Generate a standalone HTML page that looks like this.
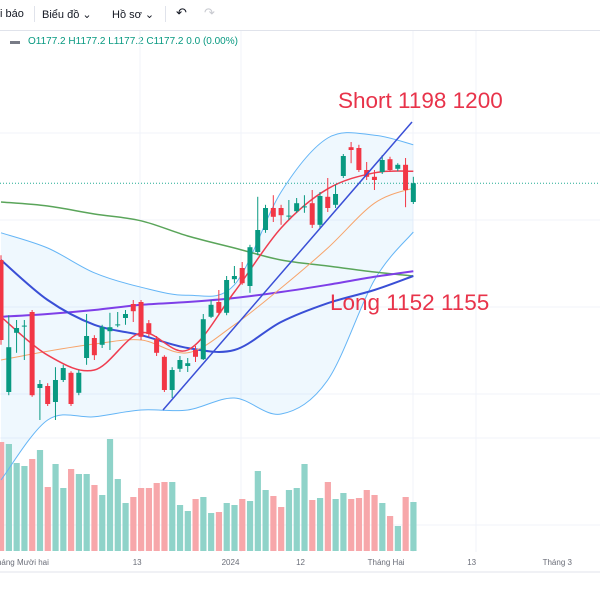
<!DOCTYPE html>
<html><head><meta charset="utf-8">
<style>
html,body{margin:0;padding:0;width:600px;height:600px;overflow:hidden;background:#fff;font-family:"Liberation Sans","Noto Sans CJK SC",sans-serif;}
#tb{position:absolute;left:0;top:0;width:600px;height:30px;border-bottom:1px solid #e0e3eb;font-size:11px;color:#131722;}
#tb span{position:absolute;top:8px;}
#legend{position:absolute;left:10px;top:36px;font-size:10px;color:#089981;}
svg{position:absolute;left:0;top:0;}
</style></head><body>
<div id="tb">
  <span style="left:0">i báo</span>
  <span style="left:34px;top:6px;height:16px;border-left:1px solid #e0e3eb"></span>
  <span style="left:42px">Biểu đồ ⌄</span>
  <span style="left:112px">Hồ sơ ⌄</span>
  <span style="left:165px;top:6px;height:16px;border-left:1px solid #e0e3eb"></span>
  <span style="left:176px;font-size:13px;top:5px">↶</span>
  <span style="left:204px;font-size:13px;top:5px;color:#c8cad0">↷</span>
</div>
<div id="legend"><span style="color:#787b86;margin-right:8px">▬</span>O1177.2 H1177.2 L1177.2 C1177.2 0.0 (0.00%)</div>
<svg id="chart" width="600" height="600"></svg>
<script>
const opens=[1158,1125,1139.8,1141.5,1145,1126,1126.5,1122.5,1128,1129.8,1124.8,1133.5,1138.5,1136.8,1140.2,1141.8,1143.5,1147,1147.5,1142.2,1138.2,1133.8,1125.5,1130.8,1131.5,1135.5,1133.2,1143.8,1147.5,1144.8,1153.2,1156,1151.5,1160,1165.5,1171,1171,1169,1170.2,1171.2,1172.2,1166.8,1173.8,1171.8,1179,1186.2,1186,1180.5,1178.8,1180,1183.2,1180.8,1181.8,1172.5];
const closes=[1138,1136.2,1141,1141.6,1124.2,1127,1122,1128,1131,1122,1129.8,1139,1134.2,1141.2,1141.2,1141.9,1144.5,1145.2,1138.8,1139.5,1134.8,1125.5,1130.5,1133,1132.2,1133.8,1143.2,1146.8,1144.8,1153,1154,1152.2,1161.2,1165.5,1171,1168.8,1169.2,1169.1,1172.2,1171.4,1166.8,1174,1171,1174.5,1184,1185.5,1180.5,1178.8,1178,1183,1180.5,1181.8,1175.5,1177.2];
const highs=[1159.2,1144.2,1143,1143,1145.5,1128,1127.2,1131.2,1131.8,1130.2,1130.5,1144.5,1139.2,1141.8,1144.8,1145,1145.5,1148,1148,1143,1139,1134.2,1131.2,1134,1133.5,1136.5,1144.5,1148,1150.5,1154,1156.5,1157.5,1161.8,1173.8,1171.8,1174.2,1171.8,1173,1173.5,1174.2,1175.5,1175,1178.5,1176.8,1184.5,1187.5,1186.8,1182.5,1180.5,1184.2,1183.8,1182.2,1183.5,1178.8];
const lows=[1136.8,1124.2,1134.8,1133,1123.8,1118,1121.5,1118,1127.5,1121.5,1124.2,1131.8,1133,1136,1135.5,1141.2,1141.8,1142.5,1138,1138.8,1134,1125,1123.5,1130,1130,1132.5,1133,1143.5,1144.2,1144.2,1152.2,1151.8,1149.8,1159.2,1164.8,1167.5,1166.8,1168,1169.8,1169.8,1166,1166,1170,1171,1178.5,1182.2,1180,1178,1175.5,1179.5,1180,1180.2,1171.2,1172];
const volumes=[109,107,88,85,92,101,64,87,63,82,77,77,66,56,112,72,48,54,63,63,68,69,69,46,40,52,54,38,39,48,46,52,50,80,61,55,44,61,63,87,51,53,69,52,58,52,53,61,56,48,35,25,54,49];
const lineIdx=[0,6,12,18,24,30,36,42,48,53];
const maFast=[1143.8,1134.2,1130.5,1139.8,1135.5,1150,1166,1175.8,1179.8,1180.2];
const maMid=[1133,1135.2,1137,1138,1134.8,1141.8,1151,1161,1172.2,1176];
const maBlue=[1158,1148,1141.8,1139.2,1136,1135.5,1142.5,1147.2,1150.5,1154];
const maPurple=[1143.8,1144.5,1145.5,1146.8,1147.5,1148.5,1150,1151.8,1153.8,1155.2];
const ma200=[1172.5,1171.5,1169.5,1167.8,1164,1161,1158,1156.5,1155,1154];
const bbUpper=[1164.8,1161,1154.8,1151.2,1149.2,1151.8,1175,1188.5,1189.2,1186.8];
const bbLower=[1103,1118,1118.8,1120.5,1120.5,1123.5,1119.5,1128,1153,1165];
const currentPrice=1177.2;
const xLabels=["Tháng Mười hai","13","2024","12","Tháng Hai","13","Tháng 3"];
const xLabelPos=[2.5,17.5,29.5,38.5,49.5,60.5,71.5];

const NS="http://www.w3.org/2000/svg";
const svg=document.getElementById('chart');
const X=i=>1+i*7.78;
const Y=p=>(1223-p)*4;
const VY=v=>551-v;
function mk(t,a){const e=document.createElementNS(NS,t);for(const k in a)e.setAttribute(k,a[k]);svg.appendChild(e);return e;}
function smooth(pts,move){let d=(move?'M':'L')+pts[0][0]+','+pts[0][1];
for(let i=0;i<pts.length-1;i++){const p0=pts[Math.max(0,i-1)],p1=pts[i],p2=pts[i+1],p3=pts[Math.min(pts.length-1,i+2)];
d+=' C'+(p1[0]+(p2[0]-p0[0])/6)+','+(p1[1]+(p2[1]-p0[1])/6)+' '+(p2[0]-(p3[0]-p1[0])/6)+','+(p2[1]-(p3[1]-p1[1])/6)+' '+p2[0]+','+p2[1];}
return d;}
const P=arr=>lineIdx.map((k,j)=>[X(k),Y(arr[j])]);
[133,220,307,394,438,525].forEach(y=>{const g=mk('line',{x1:0,x2:600,y1:y,y2:y,stroke:'#f0f3fa','stroke-width':1});

});
[140,241,413,476].forEach(x=>{const g=mk('line',{x1:x,x2:x,y1:31,y2:552,stroke:'#f0f3fa','stroke-width':1});

});
const lp=P(bbLower).reverse();
const bf=mk('path',{d:smooth(P(bbUpper),true)+' '+smooth(lp,false)+' Z',fill:'rgba(33,150,243,0.07)'});


volumes.forEach((v,i)=>{const g=closes[i]>=opens[i];
const r=mk('rect',{x:X(i)-3,y:VY(v),width:6.2,height:v,fill:g?'#8fd3c9':'#f7a7aa'});

});
function line(arr,col,w,name){const p=mk('path',{d:smooth(P(arr),true),fill:'none',stroke:col,'stroke-width':w});

}
line(bbUpper,'#64b5f6',1,'bollinger-upper');
line(bbLower,'#64b5f6',1,'bollinger-lower');
line(ma200,'#5aa55a',1.5,'ma200-line');
line(maPurple,'#7e3fe8',2,'ma-purple-line');
line(maBlue,'#3a4fd6',2,'ma-blue-line');
line(maMid,'#f7a46b',1,'ma-orange-line');
line(maFast,'#ef3d50',1.5,'ma-red-line');
const pl=mk('line',{x1:0,x2:600,y1:Y(currentPrice),y2:Y(currentPrice),stroke:'#22ab94','stroke-width':1,'stroke-dasharray':'1 2'});


opens.forEach((o,i)=>{const c=closes[i],g=c>=o,col=g?'#089981':'#f23645';
const w=mk('line',{x1:X(i),x2:X(i),y1:Y(highs[i]),y2:Y(lows[i]),stroke:col,'stroke-width':1});


const t=Y(Math.max(o,c)),h=Math.max(1,Math.abs(Y(o)-Y(c)));
const b=mk('rect',{x:X(i)-2.5,y:t,width:5,height:h,fill:col});

});
const tl=mk('line',{x1:163,y1:410,x2:412,y2:122,stroke:'#3a4fd6','stroke-width':1.5});


function txt(x,y,s,a){const t=mk('text',Object.assign({x:x,y:y},a));t.textContent=s;return t;}
const s1=txt(338,108,'Short 1198 1200',{fill:'#e8334a','font-size':22.5,'font-family':'Liberation Sans, sans-serif'});


const s2=txt(330,310,'Long 1152 1155',{fill:'#e8334a','font-size':22.5,'font-family':'Liberation Sans, sans-serif'});


const ax=mk('line',{x1:0,x2:600,y1:572,y2:572,stroke:'#e0e3eb','stroke-width':1});


xLabels.forEach((s,j)=>{const t=txt(X(xLabelPos[j]),565,s,{fill:'#6a6d78','font-size':8,'text-anchor':'middle','font-family':'Liberation Sans, sans-serif'});

});
</script>
</body></html>
